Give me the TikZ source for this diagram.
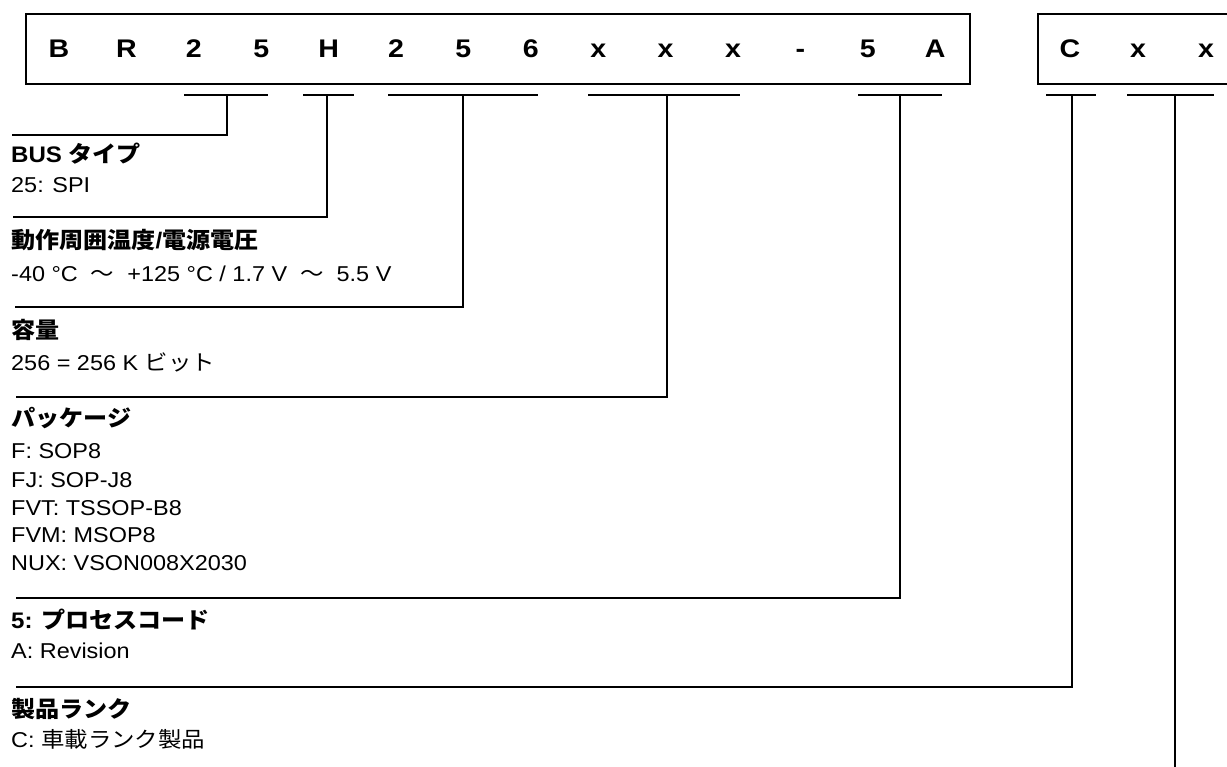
\documentclass[tikz,border=0pt]{standalone}
\usepackage{fontspec}
\setmainfont{Liberation Sans}
\newfontfamily\jp{Noto Sans CJK JP}
\begin{document}
\begin{tikzpicture}[x=1pt,y=-1pt,
  code/.style={font=\fontsize{25.5}{30}\selectfont\bfseries, inner sep=0pt, anchor=base, xscale=1.12},
  title/.style={font=\fontsize{22.5}{26}\selectfont\bfseries, inner sep=0pt, anchor=base west, xscale=1.07},
  desc/.style={font=\fontsize{21.5}{25}\selectfont, inner sep=0pt, anchor=base west, xscale=1.09},
  frame/.style={draw, line width=1.6pt, inner sep=0pt, anchor=north west},
  uline/.style={line width=1.4pt},
  lead/.style={line width=1.4pt}]
\clip (0,0) rectangle (1227,767);
\fill[white] (0,0) rectangle (1227,767);
% code boxes
\node[frame, minimum width=944pt, minimum height=70pt] (box1) at (25,13) {};
\node[frame, minimum width=240pt, minimum height=70pt] (box2) at (1037,13) {};
\foreach \c [count=\i from 0] in {B,R,2,5,H,2,5,6,x,x,x,-,5,A}
  \node[code] (c\i) at (59+67.4*\i, 58) {\c};
\node[code] (cc) at (1070,58) {C};
\node[code] (cx1) at (1138,58) {x};
\node[code] (cx2) at (1206,58) {x};
% underlines and leaders
\foreach \a/\b/\m/\y/\s [count=\i] in {184/268/227/135/12, 303/354/327/217/13, 388/538/463/307/15, 588/740/667/397/16, 858/942/900/598/16, 1046/1096/1072/687/16} {
  \coordinate (u\i a) at (\a,95);
  \coordinate (u\i b) at (\b,95);
  \coordinate (u\i m) at (\m,95);
  \coordinate (e\i) at (\m,\y);
  \coordinate (s\i) at (\s,\y);
  \draw[uline] (u\i a) -- (u\i b);
  \draw[lead] (u\i m) -- (e\i) -- (s\i);
}
\coordinate (u7a) at (1127,95);
\coordinate (u7b) at (1214,95);
\coordinate (u7m) at (1175,95);
\coordinate (e7) at (1175,767);
\draw[uline] (u7a) -- (u7b);
\draw[lead] (u7m) -- (e7);
% texts
\node[title] (t1) at (11,163) {BUS {\jp タイプ}};
\node[desc] (d1) at (11,193) {25: SPI};
\node[title] (t2) at (11,249) {{\jp 動作周囲温度}/{\jp 電源電圧}};
\node[desc] (d2) at (11,282) {-40 °C\ \ {\jp ～}\ \ +125 °C / 1.7 V\ \ {\jp ～}\ \ 5.5 V};
\node[title] (t3) at (11,339) {{\jp 容量}};
\node[desc] (d3) at (11,371) {256 = 256 K {\jp ビット}};
\node[title] (t4) at (11,426) {{\jp パッケージ}};
\node[desc] (d4a) at (11,458) {F: SOP8};
\node[desc] (d4b) at (11,487) {FJ: SOP-J8};
\node[desc] (d4c) at (11,515) {FVT: TSSOP-B8};
\node[desc] (d4d) at (11,542) {FVM: MSOP8};
\node[desc] (d4e) at (11,570) {NUX: VSON008X2030};
\node[title] (t5) at (11,628) {5: {\jp プロセスコード}};
\node[desc] (d5) at (11,658) {A: Revision};
\node[title] (t6) at (11,717) {{\jp 製品ランク}};
\node[desc] (d6) at (11,747) {C: {\jp 車載ランク製品}};
\end{tikzpicture}
\end{document}
